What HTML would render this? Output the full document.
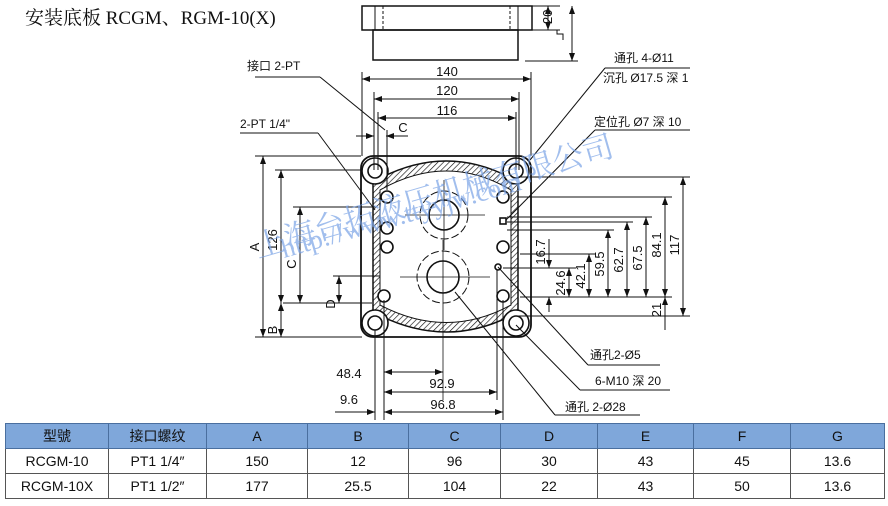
<!DOCTYPE html>
<html><head><meta charset="utf-8"><style>
body{margin:0;background:#fff;width:888px;height:506px;overflow:hidden;position:relative;font-family:"Liberation Sans","Noto Sans CJK SC",sans-serif}
svg{position:absolute;left:0;top:0}
table{position:absolute;left:5px;top:423px;border-collapse:collapse;font-family:"Liberation Sans","Noto Sans CJK SC",sans-serif;font-size:14px;color:#111}
td{border:1px solid #555;text-align:center;height:24px;padding:0}
tr.h td{background:#7fa7da;border-color:#4a6f9f}
</style></head><body>
<svg width="888" height="506" viewBox="0 0 888 506" font-family="Liberation Sans, Noto Sans CJK SC, sans-serif" fill="none" stroke="#111" stroke-width="1">
<defs>
<marker id="a" viewBox="0 0 8 6" refX="8" refY="3" markerWidth="8" markerHeight="6" orient="auto-start-reverse"><path d="M0,0 L8,3 L0,6z" fill="#111" stroke="none"/></marker>
<pattern id="hat" width="4" height="4" patternUnits="userSpaceOnUse" patternTransform="rotate(45)"><line x1="0" y1="0" x2="0" y2="4" stroke="#111" stroke-width="1.3"/></pattern>
</defs>
<text x="25" y="24" font-family="Liberation Serif, Noto Serif CJK SC, serif" font-size="19" fill="#111" stroke="none">安装底板 RCGM、RGM-10(X)</text>
<!-- side view -->
<rect x="362" y="6" width="170" height="24" stroke-width="1.5"/>
<rect x="373" y="30" width="145" height="30" stroke-width="1.5"/>
<line x1="375" y1="6" x2="375" y2="30"/><line x1="383" y1="6" x2="383" y2="30" stroke-dasharray="3,2"/>
<line x1="518" y1="6" x2="518" y2="30"/><line x1="510" y1="6" x2="510" y2="30" stroke-dasharray="3,2"/>
<line x1="532" y1="6" x2="560" y2="6"/><line x1="532" y1="30" x2="560" y2="30"/><line x1="525" y1="61" x2="578" y2="61"/>
<line x1="548" y1="6" x2="548" y2="30" marker-start="url(#a)" marker-end="url(#a)"/>
<line x1="572" y1="6" x2="572" y2="61" marker-start="url(#a)" marker-end="url(#a)"/>
<text x="0" y="0" transform="translate(552,24) rotate(-90)" font-size="13" fill="#111" stroke="none">20</text>
<path d="M557,30 v4 h6 v6" />
<!-- plate -->
<rect x="361" y="156" width="170" height="181" rx="12" stroke-width="1.8"/>
<path d="M373,182 Q447,140 518,182 V312 Q447,352 373,312 Z" fill="url(#hat)" stroke="none"/>
<path d="M380,190 Q447,152 511,190 V305 Q447,340 380,305 Z" fill="#fff" stroke-width="1"/>
<path d="M373,315 V177 M518,177 V315" stroke-width="1.5"/>
<path d="M373,182 Q447,140 518,182" stroke-width="1.5"/><path d="M373,312 Q447,352 518,312" stroke-width="1.5"/>
<g stroke-width="1.6" fill="#fff">
<circle cx="375" cy="171" r="13"/><circle cx="375" cy="171" r="7"/>
<circle cx="516" cy="171" r="13"/><circle cx="516" cy="171" r="7"/>
<circle cx="375" cy="323" r="13"/><circle cx="375" cy="323" r="7"/>
<circle cx="516" cy="323" r="13"/><circle cx="516" cy="323" r="7"/>
<circle cx="387" cy="197" r="6"/><circle cx="503" cy="197" r="6"/><circle cx="387" cy="228" r="6"/>
<circle cx="387" cy="247" r="6"/><circle cx="503" cy="247" r="6"/><circle cx="384" cy="296" r="6"/><circle cx="503" cy="296" r="6"/>
<circle cx="444" cy="215" r="15"/><circle cx="443" cy="277" r="16"/>
<rect x="500" y="218" width="6" height="6"/><circle cx="498" cy="267" r="3"/>
</g>
<g stroke-dasharray="8,3" stroke-width="1"><circle cx="444" cy="215" r="24"/><circle cx="443" cy="277" r="26"/></g>
<g stroke-width="0.8"><line x1="405" y1="215" x2="485" y2="215"/><line x1="444" y1="180" x2="444" y2="250"/><line x1="400" y1="277" x2="490" y2="277"/><line x1="443" y1="240" x2="443" y2="400"/></g>
<!-- top dims -->
<g stroke-width="1"><line x1="362" y1="72" x2="362" y2="156"/><line x1="531" y1="72" x2="531" y2="156"/>
<line x1="374" y1="92" x2="374" y2="170"/><line x1="519" y1="92" x2="519" y2="170"/>
<line x1="378" y1="112" x2="378" y2="170"/><line x1="516" y1="112" x2="516" y2="170"/>
<line x1="362" y1="79" x2="531" y2="79" marker-start="url(#a)" marker-end="url(#a)"/>
<line x1="374" y1="99" x2="519" y2="99" marker-start="url(#a)" marker-end="url(#a)"/>
<line x1="378" y1="118" x2="516" y2="118" marker-start="url(#a)" marker-end="url(#a)"/>
<line x1="356" y1="136" x2="374" y2="136" marker-end="url(#a)"/><line x1="386" y1="136" x2="408" y2="136"/><line x1="388" y1="136" x2="386" y2="136" marker-end="url(#a)"/>
<line x1="387" y1="130" x2="387" y2="190"/></g>
<g font-size="13" fill="#111" stroke="none" text-anchor="middle">
<text x="447" y="76">140</text><text x="447" y="95">120</text><text x="447" y="115">116</text><text x="403" y="132">C</text>
<text x="349" y="378">48.4</text><text x="442" y="388">92.9</text><text x="443" y="409">96.8</text><text x="349" y="404">9.6</text>
</g>
<!-- leaders left -->
<line x1="255" y1="77" x2="320" y2="77"/><line x1="320" y1="77" x2="385" y2="130"/>
<line x1="240" y1="133" x2="318" y2="133"/><line x1="318" y1="133" x2="375" y2="210"/>
<g font-size="12" fill="#111" stroke="none">
<text x="247" y="70">接口 2-PT</text><text x="240" y="128">2-PT  1/4"</text>
</g>
<!-- left dims -->
<line x1="255" y1="156" x2="361" y2="156"/><line x1="255" y1="337" x2="362" y2="337"/>
<line x1="275" y1="170" x2="362" y2="170"/><line x1="283" y1="303" x2="372" y2="303"/>
<line x1="293" y1="207" x2="375" y2="207"/><line x1="333" y1="276" x2="380" y2="276"/>
<line x1="263" y1="156" x2="263" y2="337" marker-start="url(#a)" marker-end="url(#a)"/>
<line x1="281" y1="170" x2="281" y2="303" marker-start="url(#a)" marker-end="url(#a)"/>
<line x1="281" y1="303" x2="281" y2="337" marker-start="url(#a)" marker-end="url(#a)"/>
<line x1="300" y1="207" x2="300" y2="303" marker-start="url(#a)" marker-end="url(#a)"/>
<line x1="339" y1="276" x2="339" y2="303" marker-start="url(#a)" marker-end="url(#a)"/>
<g font-size="13" fill="#111" stroke="none" text-anchor="middle">
<text transform="translate(259,247) rotate(-90)">A</text><text transform="translate(277,240) rotate(-90)">126</text>
<text transform="translate(296,264) rotate(-90)">C</text><text transform="translate(335,304) rotate(-90)">D</text>
<text transform="translate(277,330) rotate(-90)">B</text>
</g>
<!-- bottom dims -->
<line x1="384" y1="300" x2="384" y2="420"/><line x1="375" y1="330" x2="375" y2="420"/><line x1="497" y1="270" x2="497" y2="400"/><line x1="503" y1="300" x2="503" y2="420"/>
<line x1="384" y1="372" x2="443" y2="372" marker-start="url(#a)" marker-end="url(#a)"/>
<line x1="384" y1="392" x2="497" y2="392" marker-start="url(#a)" marker-end="url(#a)"/>
<line x1="384" y1="412" x2="503" y2="412" marker-start="url(#a)" marker-end="url(#a)"/>
<line x1="335" y1="412" x2="375" y2="412" marker-end="url(#a)"/>
<!-- right dims -->
<g>
<line x1="518" y1="177" x2="690" y2="177"/><line x1="518" y1="197" x2="672" y2="197"/><line x1="507" y1="217" x2="652" y2="217"/>
<line x1="507" y1="222" x2="633" y2="222"/><line x1="507" y1="230" x2="614" y2="230"/><line x1="520" y1="254" x2="596" y2="254"/>
<line x1="503" y1="268" x2="576" y2="268"/><line x1="520" y1="297" x2="672" y2="297"/><line x1="518" y1="316" x2="690" y2="316"/>
<line x1="683" y1="177" x2="683" y2="316" marker-start="url(#a)" marker-end="url(#a)"/>
<line x1="665" y1="197" x2="665" y2="297" marker-start="url(#a)" marker-end="url(#a)"/>
<line x1="665" y1="297" x2="665" y2="330" marker-start="url(#a)"/>
<line x1="646" y1="217" x2="646" y2="297" marker-start="url(#a)" marker-end="url(#a)"/>
<line x1="627" y1="222" x2="627" y2="297" marker-start="url(#a)" marker-end="url(#a)"/>
<line x1="608" y1="230" x2="608" y2="297" marker-start="url(#a)" marker-end="url(#a)"/>
<line x1="589" y1="254" x2="589" y2="297" marker-start="url(#a)" marker-end="url(#a)"/>
<line x1="569" y1="268" x2="569" y2="297" marker-start="url(#a)" marker-end="url(#a)"/>
<line x1="549" y1="239" x2="549" y2="268" marker-end="url(#a)"/><line x1="549" y1="297" x2="549" y2="312" marker-start="url(#a)"/>
</g>
<g font-size="13" fill="#111" stroke="none" text-anchor="middle">
<text transform="translate(679,245) rotate(-90)">117</text><text transform="translate(661,245) rotate(-90)">84.1</text>
<text transform="translate(642,258) rotate(-90)">67.5</text><text transform="translate(623,260) rotate(-90)">62.7</text>
<text transform="translate(604,264) rotate(-90)">59.5</text><text transform="translate(585,276) rotate(-90)">42.1</text>
<text transform="translate(565,283) rotate(-90)">24.6</text><text transform="translate(545,252) rotate(-90)">16.7</text>
<text transform="translate(661,310) rotate(-90)">21</text>
</g>
<!-- right leaders -->
<line x1="530" y1="160" x2="605" y2="68"/><line x1="605" y1="68" x2="690" y2="68"/>
<line x1="506" y1="220" x2="595" y2="130"/><line x1="595" y1="130" x2="690" y2="130"/>
<line x1="498" y1="267" x2="588" y2="365"/><line x1="588" y1="365" x2="660" y2="365"/>
<line x1="516" y1="325" x2="580" y2="390"/><line x1="580" y1="390" x2="670" y2="390"/>
<line x1="455" y1="292" x2="555" y2="415"/><line x1="555" y1="415" x2="640" y2="415"/>
<g font-size="12" fill="#111" stroke="none">
<text x="614" y="62">通孔 4-Ø11</text><text x="603" y="82">沉孔 Ø17.5 深 1</text><text x="594" y="126">定位孔 Ø7 深 10</text>
<text x="590" y="359">通孔2-Ø5</text><text x="595" y="385">6-M10 深 20</text><text x="565" y="411">通孔 2-Ø28</text>
</g>
<!-- watermark -->
<g fill="#7aa3e6" stroke="none" opacity="0.7" font-family="Liberation Serif, Noto Serif CJK SC, serif">
<text transform="translate(258,258) rotate(-16)" font-size="31">上海台拓液压机械有限公司</text>
<text transform="translate(284,258) rotate(-16)" font-size="27">http://www.ttyyjw.com</text>
</g>
</svg>
<table>
<tr class="h"><td style="width:102px">型號</td><td style="width:97px">接口螺纹</td><td style="width:100px">A</td><td style="width:100px">B</td><td style="width:91px">C</td><td style="width:96px">D</td><td style="width:95px">E</td><td style="width:96px">F</td><td style="width:93px">G</td></tr>
<tr><td>RCGM-10</td><td>PT1 1/4″</td><td>150</td><td>12</td><td>96</td><td>30</td><td>43</td><td>45</td><td>13.6</td></tr>
<tr><td>RCGM-10X</td><td>PT1 1/2″</td><td>177</td><td>25.5</td><td>104</td><td>22</td><td>43</td><td>50</td><td>13.6</td></tr>
</table>
</body></html>
